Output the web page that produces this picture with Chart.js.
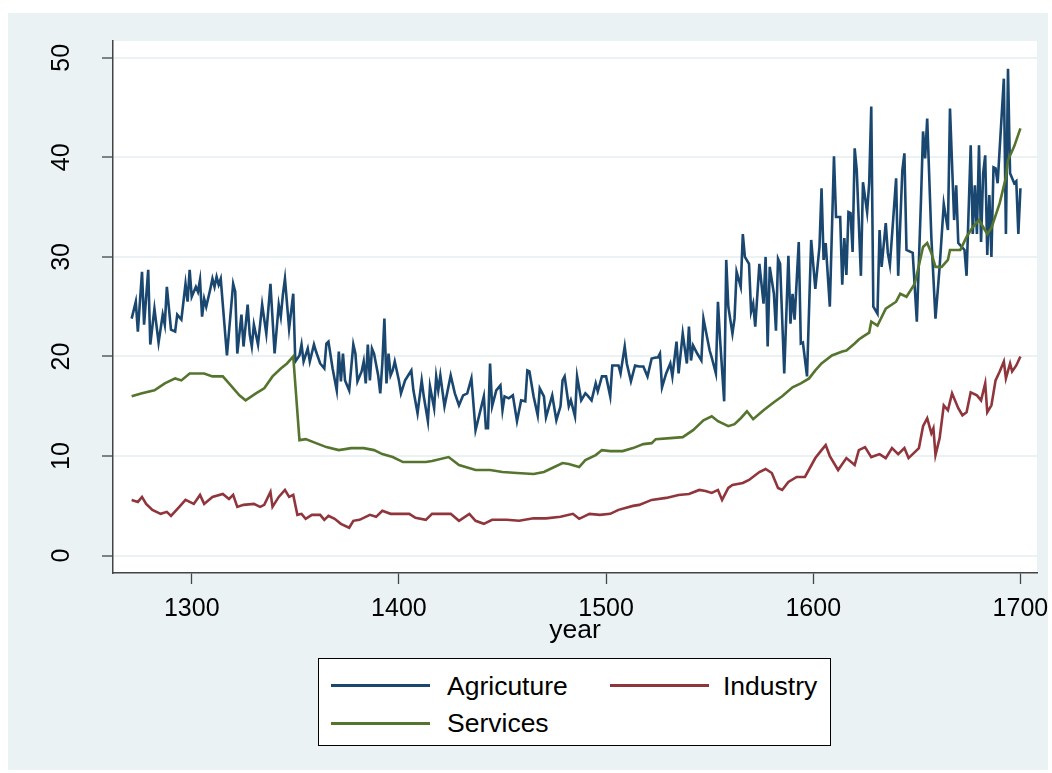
<!DOCTYPE html>
<html>
<head>
<meta charset="utf-8">
<script src="https://cdn.jsdelivr.net/npm/chart.js@4/dist/chart.umd.min.js"></script>
<style>
  body { margin: 0; background: #ffffff; width: 1052px; height: 773px; position: relative; overflow: hidden; font-family: "Liberation Sans", Arial, sans-serif; }
  #panel { position: absolute; left: 8px; top: 13px; width: 1040px; height: 757px; background: #eaf2f3; }
  #legend { position: absolute; left: 318px; top: 658px; width: 511px; height: 86px; border: 1px solid #000; background: #fff; }
  #legend .swatch { position: absolute; width: 99px; height: 3px; }
  #legend .lab { position: absolute; font-size: 26.5px; line-height: 30px; color: #000; white-space: nowrap; }
</style>
</head>
<body>
<div id="panel"><canvas id="chart" width="1040" height="757"></canvas></div>
<div id="legend">
  <div class="swatch" style="left:12px;top:25px;background:#1a476f"></div>
  <div class="lab" style="left:128px;top:12px">Agricuture</div>
  <div class="swatch" style="left:291px;top:25px;background:#90353b"></div>
  <div class="lab" style="left:404px;top:12px">Industry</div>
  <div class="swatch" style="left:12px;top:63px;background:#55752f"></div>
  <div class="lab" style="left:128px;top:49px">Services</div>
</div>
<script>
const xTicks = [1300, 1400, 1500, 1600, 1700]
const yTicks = [0, 10, 20, 30, 40, 50]

// ---------- Agriculture
const agriYears = [
  1271,1273,1274,1276,1277,1279,1280,1282,1284,1286,1287,1288,1290,1292,1293,1295,1297,1298,1299,1300,
  1302,1303,1304,1305,1306,1307,1309,1310,1311,1312,1313,1314,1317,1320,1321,1322,1324,1325,1327,1328,
  1329,1330,1332,1334,1336,1338,1340,1342,1343,1344,1345,1347,1349,1350,1352,1353,1354,1356,1357,1359,
  1360,1362,1364,1365,1366,1368,1370,1371,1372,1373,1374,1376,1378,1379,1380,1382,1383,1384,1385,1386,
  1387,1388,1390,1391,1392,1393,1394,1395,1396,1397,1398,1400,1401,1403,1406,1407,1409,1411,1412,1414,
  1415,1417,1418,1419,1420,1422,1425,1427,1429,1431,1433,1435,1437,1441,1442,1443,1444,1445,1447,1449,
  1450,1451,1453,1455,1457,1459,1461,1462,1463,1465,1467,1468,1470,1471,1474,1476,1478,1479,1480,1482,
  1483,1485,1486,1488,1490,1491,1493,1495,1496,1498,1500,1502,1503,1506,1507,1509,1510,1512,1514,1516,
  1518,1520,1522,1524,1525,1526,1527,1529,1531,1532,1534,1535,1537,1539,1540,1541,1542,1544,1546,1547,
  1550,1551,1553,1554,1555,1557,1558,1559,1561,1562,1563,1565,1566,1567,1569,1570,1571,1572,1574,1576,
  1577,1578,1579,1581,1582,1583,1584,1586,1588,1589,1590,1591,1593,1594,1595,1597,1599,1601,1603,1604,
  1605,1606,1608,1610,1611,1613,1614,1615,1616,1617,1618,1619,1620,1621,1623,1624,1626,1627,1628,1629,
  1631,1632,1633,1635,1636,1637,1640,1641,1643,1644,1645,1647,1648,1650,1652,1653,1654,1655,1657,1659,
  1661,1663,1665,1666,1668,1669,1670,1673,1674,1676,1677,1678,1679,1680,1681,1682,1683,1684,1685,1686,
  1687,1688,1689,1692,1693,1694,1695,1697,1698,1699,1700
]
const agriValues = [
  23.8,25.5,22.5,28.5,23.2,28.7,21.2,24.8,21.4,24.2,23.2,27.0,22.7,22.5,24.2,23.7,27.3,25.5,28.7,26.0,
  27.0,26.5,27.7,24.0,25.8,25.0,26.8,27.8,27.0,28.0,27.2,27.8,20.1,27.3,26.5,20.3,24.2,21.0,25.2,22.2,
  21.0,23.2,21.2,25.2,22.3,27.3,20.3,25.2,24.0,26.2,27.8,22.8,26.3,19.5,20.1,21.2,19.5,20.8,19.5,21.2,
  20.5,19.3,18.8,21.3,21.5,18.8,16.6,20.5,17.5,20.3,17.6,16.6,21.2,20.3,17.5,18.5,19.5,17.3,21.2,17.6,
  20.8,20.3,18.1,16.3,19.3,23.8,17.3,20.3,18.1,18.6,19.5,17.6,16.3,17.6,18.6,16.6,14.3,17.6,16.0,13.5,
  17.0,14.8,18.0,16.6,18.1,15.0,18.1,16.3,15.1,16.1,16.3,17.8,12.6,16.0,12.8,12.8,19.3,15.0,16.6,17.1,
  14.6,16.0,15.8,16.1,13.5,15.6,15.5,18.6,18.5,16.0,14.1,16.8,16.0,13.9,16.1,13.6,15.0,17.6,18.0,15.0,
  15.6,14.0,18.0,15.6,16.3,16.1,15.6,17.3,16.5,18.0,18.0,16.0,19.1,19.1,18.3,21.0,19.3,17.5,19.1,19.0,
  19.0,18.0,19.8,19.9,19.9,20.3,16.9,18.3,19.3,18.0,21.5,18.3,22.3,19.3,23.0,19.6,21.1,20.3,19.6,23.8,
  20.6,19.9,18.3,25.5,21.8,15.5,29.7,25.0,22.3,23.8,28.5,27.0,32.3,30.0,29.3,24.5,25.3,23.0,29.3,25.3,
  30.0,21.0,29.0,26.3,22.6,29.8,29.3,18.3,30.1,23.3,26.3,23.7,31.5,21.3,21.4,18.0,31.7,26.8,31.0,36.9,
  29.7,31.4,25.0,40.1,34.0,34.0,27.2,31.9,28.2,34.5,34.4,30.5,40.9,38.7,28.1,37.5,34.5,37.4,45.1,25.0,
  24.3,32.7,29.0,33.4,30.4,29.2,37.9,28.1,38.7,40.4,30.7,30.5,30.4,23.5,35.7,42.6,39.9,43.9,32.0,23.8,
  29.0,35.3,32.7,44.9,33.7,37.2,31.4,30.7,28.1,41.2,32.3,37.2,32.3,41.2,31.5,38.4,40.2,30.2,36.2,30.0,
  39.0,38.9,37.4,47.9,32.3,48.9,38.4,37.4,37.6,32.3,36.9
]

// ---------- Industry
const indYears = [
  1271,1274,1276,1278,1281,1285,1288,1290,1294,1297,1301,1304,1306,1310,1315,1318,1320,1322,1325,1330,
  1333,1335,1338,1339,1342,1345,1347,1349,1351,1353,1355,1358,1362,1364,1366,1369,1372,1376,1378,1381,
  1386,1389,1392,1396,1400,1405,1408,1413,1416,1425,1429,1434,1437,1441,1445,1452,1458,1465,1471,1478,
  1484,1487,1492,1497,1502,1506,1513,1516,1522,1529,1535,1540,1545,1548,1551,1554,1556,1559,1561,1566,
  1569,1574,1577,1580,1583,1585,1588,1592,1596,1601,1604,1606,1608,1612,1616,1620,1622,1625,1628,1632,
  1635,1638,1641,1644,1646,1651,1653,1655,1657,1658,1659,1661,1663,1665,1667,1670,1672,1674,1676,1679,
  1681,1683,1684,1686,1688,1690,1692,1693,1695,1696,1698,1700
]
const indValues = [
  5.6,5.4,5.9,5.2,4.6,4.2,4.4,4.0,4.9,5.6,5.2,6.1,5.2,5.9,6.2,5.7,6.1,4.9,5.1,5.2,
  4.9,5.1,6.4,4.9,5.9,6.6,5.9,6.1,4.1,4.2,3.7,4.1,4.1,3.6,4.0,3.7,3.2,2.8,3.5,3.6,
  4.1,3.9,4.5,4.2,4.2,4.2,3.8,3.6,4.2,4.2,3.5,4.2,3.5,3.2,3.6,3.6,3.5,3.75,3.75,3.9,
  4.2,3.7,4.2,4.1,4.2,4.6,5.0,5.1,5.6,5.8,6.1,6.2,6.6,6.5,6.3,6.6,5.6,6.8,7.1,7.3,
  7.6,8.4,8.7,8.3,6.8,6.6,7.4,7.9,7.9,9.8,10.6,11.1,10.0,8.6,9.8,9.1,10.6,10.9,9.9,10.2,
  9.8,10.8,10.2,10.8,9.8,10.8,13.0,13.8,12.3,12.8,10.1,11.8,15.1,14.6,16.3,14.8,14.1,14.4,16.4,16.1,
  15.6,17.3,14.4,15.1,17.6,18.5,19.5,17.8,19.3,18.5,19.1,20.0
]

// ---------- Services
const servYears = [
  1271,1276,1282,1287,1292,1295,1299,1306,1310,1315,1318,1323,1326,1331,1335,1339,1343,1346,1349,1352,
  1355,1360,1365,1371,1377,1383,1388,1392,1397,1402,1408,1413,1416,1424,1429,1437,1444,1450,1457,1465,
  1470,1474,1479,1482,1487,1490,1495,1498,1502,1508,1513,1518,1522,1524,1531,1537,1542,1547,1551,1554,
  1559,1562,1565,1568,1571,1576,1581,1585,1590,1594,1598,1601,1604,1609,1614,1616,1620,1622,1624,1627,
  1628,1631,1635,1640,1642,1645,1649,1653,1655,1657,1659,1662,1665,1666,1671,1674,1677,1680,1682,1684,
  1686,1690,1693,1694,1697,1700
]
const servValues = [
  16.0,16.3,16.6,17.3,17.8,17.6,18.3,18.3,18.0,18.0,17.3,16.1,15.6,16.3,16.8,18.0,18.8,19.3,20.0,11.6,
  11.7,11.3,10.9,10.6,10.8,10.8,10.6,10.2,9.9,9.4,9.4,9.4,9.5,9.9,9.1,8.6,8.6,8.4,8.3,8.2,
  8.4,8.8,9.3,9.2,8.9,9.6,10.1,10.6,10.5,10.5,10.8,11.2,11.3,11.7,11.8,11.9,12.6,13.6,14.0,13.5,
  13.0,13.2,13.8,14.5,13.7,14.6,15.4,16.0,16.9,17.3,17.8,18.6,19.3,20.1,20.5,20.6,21.3,21.7,22.0,22.4,
  23.5,23.1,24.8,25.5,26.3,26.0,27.3,31.0,31.4,30.4,29.0,29.0,29.7,30.7,30.7,32.0,33.0,33.7,33.0,32.3,
  32.9,35.4,38.0,39.7,41.1,42.9
]

const toPoints = (xs, ys) => xs.map((x, i) => ({ x: x, y: ys[i] }))

// white plot region behind the lines
const plotBg = {
  id: "plotBg",
  beforeDraw(c) {
    const a = c.chartArea
    c.ctx.save()
    c.ctx.fillStyle = "#ffffff"
    c.ctx.fillRect(a.left, a.top, a.right - a.left, a.bottom - a.top)
    c.ctx.restore()
  }
}

const font = { family: "'Liberation Sans', Arial, sans-serif", size: 25 }

new Chart(document.getElementById("chart"), {
  type: "line",
  data: {
    datasets: [
      { label: "Agricuture", data: toPoints(agriYears, agriValues), borderColor: "#1a476f", borderWidth: 2.6, order: 3 },
      { label: "Industry", data: toPoints(indYears, indValues), borderColor: "#90353b", borderWidth: 2.6, order: 2 },
      { label: "Services", data: toPoints(servYears, servValues), borderColor: "#55752f", borderWidth: 2.6, order: 1 }
    ]
  },
  options: {
    responsive: false,
    animation: false,
    elements: { point: { radius: 0 }, line: { tension: 0 } },
    layout: { padding: { left: 0, top: 28, right: 11, bottom: 119 } },
    plugins: { legend: { display: false }, tooltip: { enabled: false } },
    scales: {
      x: {
        type: "linear",
        min: 1262,
        max: 1708,
        afterBuildTicks: s => { s.ticks = xTicks.map(v => ({ value: v })) },
        afterFit: s => { s.height = 78; s.paddingLeft = 0; s.paddingRight = 0 },
        grid: { drawOnChartArea: false, tickLength: 11, tickColor: "#444", tickWidth: 1.3 },
        border: { color: "#444", width: 1.5 },
        ticks: { color: "#000", font: font, padding: 10, maxRotation: 0, callback: v => String(v) },
        title: { display: true, text: "year", color: "#000", font: { family: font.family, size: 26.5 }, padding: { top: 0, bottom: 4 } }
      },
      y: {
        min: -1.74,
        max: 51.68,
        afterBuildTicks: s => { s.ticks = yTicks.map(v => ({ value: v })) },
        afterFit: s => { s.width = 105; s.paddingTop = 0; s.paddingBottom = 0 },
        grid: { color: "#eaf2f3", lineWidth: 2, tickLength: 11, tickColor: "#444", tickWidth: 1.3 },
        border: { color: "#444", width: 1.5 },
        ticks: { color: "#000", font: font, padding: 26, minRotation: 90, maxRotation: 90, crossAlign: "center", callback: v => String(v) }
      }
    }
  },
  plugins: [plotBg]
})
</script>
</body>
</html>
